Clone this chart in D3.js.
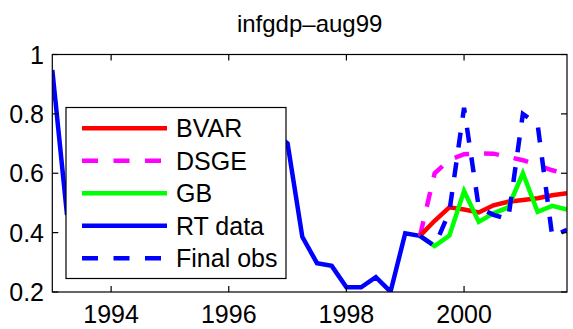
<!DOCTYPE html>
<html>
<head>
<meta charset="utf-8">
<script src="https://cdn.jsdelivr.net/npm/d3@7"></script>
<style>
  html, body { margin: 0; padding: 0; background: #fff; }
  svg { display: block; }
  text { font-family: "Liberation Sans", Arial, Helvetica, sans-serif; fill: #000; }
</style>
</head>
<body>
<svg id="chart" width="573" height="329"></svg>
<script>
// ---------- data ----------
const title = "infgdp\u2013aug99";
// quarterly periods (decimal years), 1993Q1 .. 2001Q4
const periods = [1993.00,1993.25,1993.50,1993.75,1994.00,1994.25,1994.50,1994.75,
                 1995.00,1995.25,1995.50,1995.75,1996.00,1996.25,1996.50,1996.75,
                 1997.00,1997.25,1997.50,1997.75,1998.00,1998.25,1998.50,1998.75,
                 1999.00,1999.25,1999.50,1999.75,2000.00,2000.25,2000.50,2000.75,
                 2001.00,2001.25,2001.50,2001.75];
// real-time data 1993Q1 .. 1999Q2 (middle part hidden under legend in the original)
const rtData = [0.948,0.46,0.55,0.62,0.58,0.66,0.72,0.68,0.61,0.57,0.63,0.70,0.66,0.60,0.64,0.74,
                0.70,0.386,0.297,0.288,0.216,0.216,0.25,0.201,0.398,0.389];
// forecasts / final obs 1999Q2 .. 2001Q4
const bvar   = [0.389,0.44,0.485,0.478,0.468,0.492,0.504,0.51,0.516,0.526,0.533];
const dsge   = [0.389,0.60,0.645,0.664,0.667,0.666,0.655,0.644,0.627,0.61,0.597];
const gb     = [0.389,0.355,0.39,0.54,0.436,0.465,0.485,0.60,0.47,0.49,0.478];
const finalObs = [0.389,0.355,0.47,0.82,0.485,0.46,0.445,0.80,0.765,0.386,0.41];
const xTicks = [1994,1996,1998,2000];
const yTicks = [0.2,0.4,0.6,0.8,1];
const yTickLabels = ["0.2","0.4","0.6","0.8","1"];
const legendNames = ["BVAR","DSGE","GB","RT data","Final obs"];

// ---------- layout ----------
const svg = d3.select("#chart");
const L = 52.3, R = 567, T = 54.5, B = 292;
const x = d3.scaleLinear().domain([1993, 2001.75]).range([L, R]);
const y = d3.scaleLinear().domain([0.2, 1]).range([B, T]);

const fcStart = rtData.length - 1;
const fcPeriods = periods.slice(fcStart);

svg.append("defs").append("clipPath").attr("id","clip")
  .append("rect").attr("x",L).attr("y",T).attr("width",R-L).attr("height",B-T);

const line = d3.line().x(d => x(d[0])).y(d => y(d[1]));
const zip = (xs, ys) => ys.map((v,i) => [xs[i], v]);

const series = [
  {name:"RT data", pts: zip(periods, rtData), color:"#0000ff", dash:null},
  {name:"DSGE", pts: zip(fcPeriods, dsge), color:"#ff00ff", dash:"15,15"},
  {name:"BVAR", pts: zip(fcPeriods, bvar), color:"#ff0000", dash:null},
  {name:"GB", pts: zip(fcPeriods, gb), color:"#00ff00", dash:null},
  {name:"Final obs", pts: zip(fcPeriods, finalObs), color:"#0000ff", dash:"15,15"}
];

const g = svg.append("g").attr("clip-path","url(#clip)");
series.forEach(s => {
  g.append("path").attr("d", line(s.pts))
    .attr("fill","none").attr("stroke", s.color).attr("stroke-width",4.5)
    .attr("stroke-linejoin","miter").attr("stroke-miterlimit",3)
    .attr("stroke-dasharray", s.dash);
});

// ---------- axes ----------
const tickLen = 6;
const ax = svg.append("g").attr("stroke","#000").attr("stroke-width",1.2);
ax.append("rect").attr("x",L).attr("y",T).attr("width",R-L).attr("height",B-T).attr("fill","none");
xTicks.forEach(t => {
  ax.append("line").attr("x1",x(t)).attr("x2",x(t)).attr("y1",B).attr("y2",B-tickLen);
  ax.append("line").attr("x1",x(t)).attr("x2",x(t)).attr("y1",T).attr("y2",T+tickLen);
});
yTicks.forEach(t => {
  ax.append("line").attr("x1",L).attr("x2",L+tickLen).attr("y1",y(t)).attr("y2",y(t));
  ax.append("line").attr("x1",R).attr("x2",R-tickLen).attr("y1",y(t)).attr("y2",y(t));
});
svg.append("g").selectAll("text").data(xTicks).join("text")
  .attr("x", d => x(d)).attr("y", 323).attr("text-anchor","middle")
  .attr("font-size", 25).text(d => d);
svg.append("g").selectAll("text").data(yTicks).join("text")
  .attr("x", 44).attr("y", d => y(d) + 9).attr("text-anchor","end")
  .attr("font-size", 25).text((d,i) => yTickLabels[i]);

svg.append("text").attr("x",(L+R)/2).attr("y",32).attr("text-anchor","middle")
  .attr("font-size",24).text(title);

// ---------- legend ----------
const lg = svg.append("g");
lg.append("rect").attr("x",66).attr("y",107.5).attr("width",220).attr("height",171)
  .attr("fill","#fff").attr("stroke","#000").attr("stroke-width",1.2);
const legendColors = {"BVAR":"#ff0000","DSGE":"#ff00ff","GB":"#00ff00","RT data":"#0000ff","Final obs":"#0000ff"};
const legendDash = {"BVAR":null,"DSGE":"16,15.5","GB":null,"RT data":null,"Final obs":"16,15.5"};
legendNames.forEach((n,i) => {
  const ly = 128.3 + i*32.5;
  lg.append("line").attr("x1",82).attr("x2",167).attr("y1",ly).attr("y2",ly)
    .attr("stroke",legendColors[n]).attr("stroke-width",4.5).attr("stroke-dasharray",legendDash[n]);
  lg.append("text").attr("x",176).attr("y",ly+9).attr("font-size",25).text(n);
});
</script>
</body>
</html>
